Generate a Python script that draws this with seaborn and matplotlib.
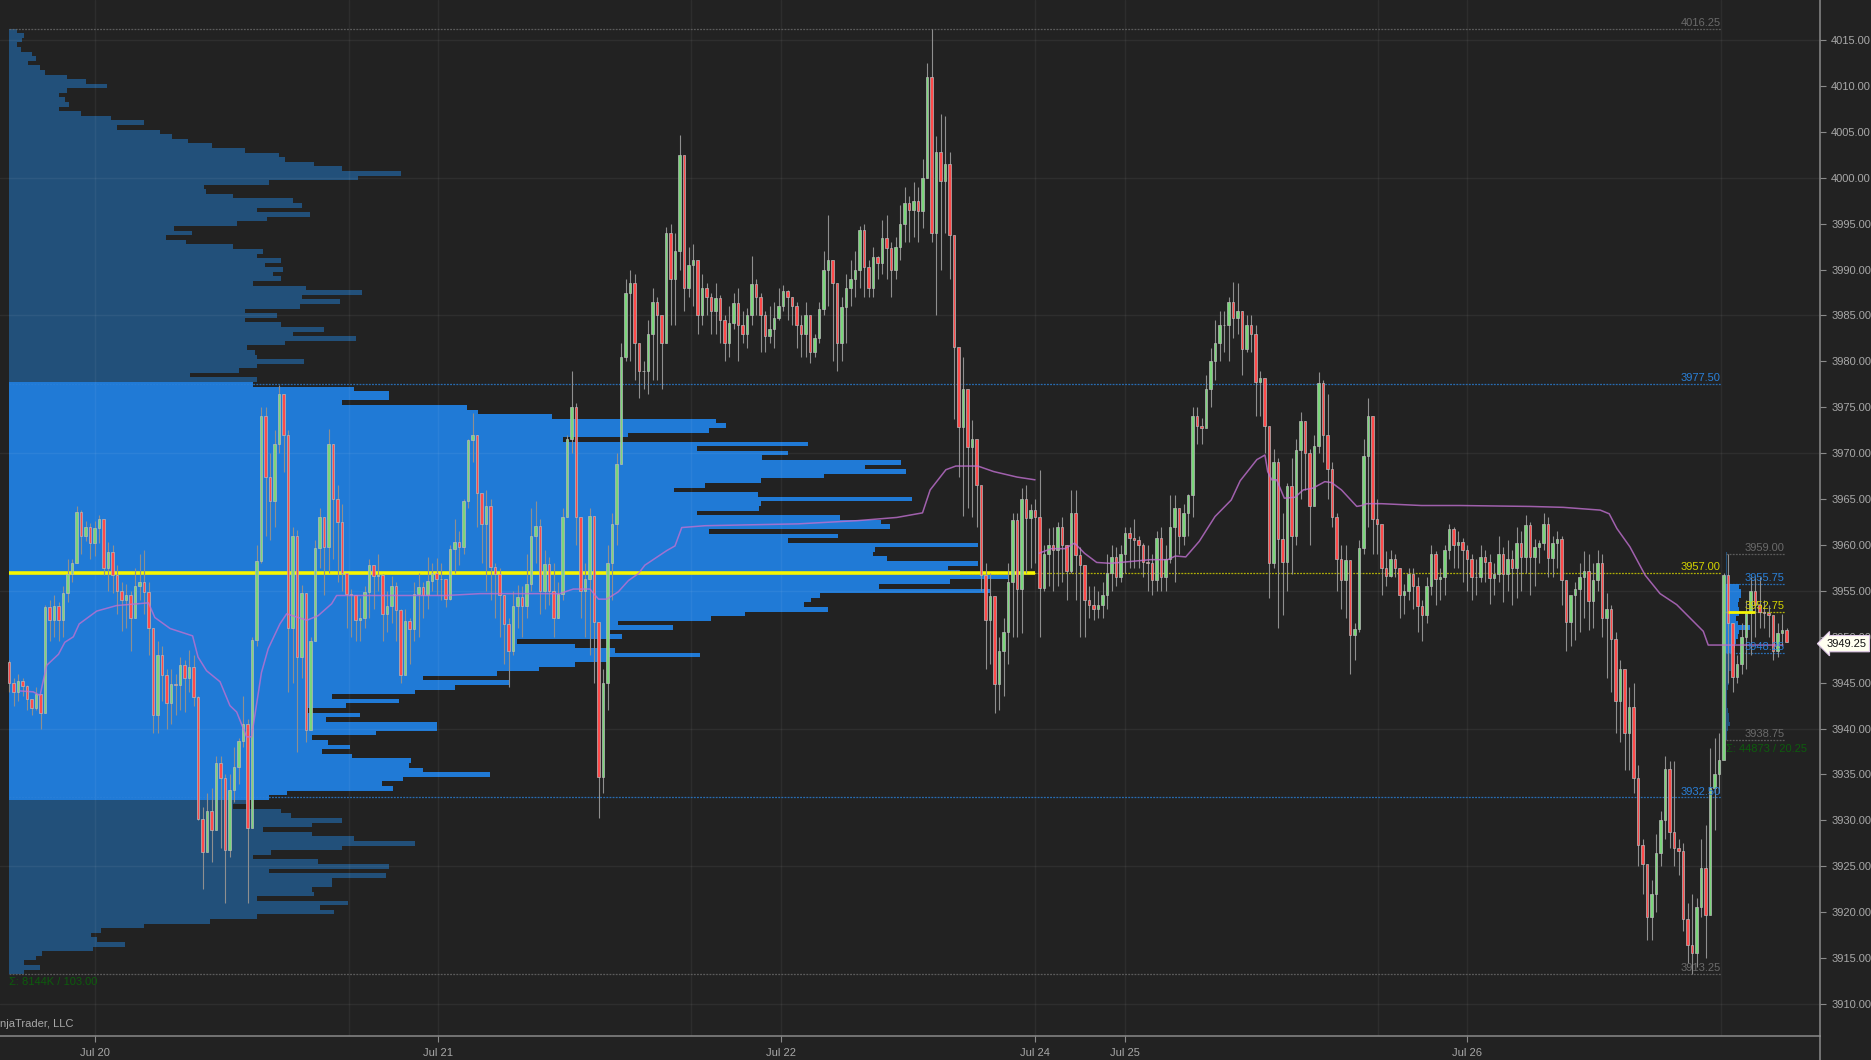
import numpy as np
import pandas as pd
import matplotlib.pyplot as plt
from matplotlib.lines import Line2D
import seaborn as sns

# prices below are stored as points above this base
base = 3900

# one row = 20 bars
closes = [
    45.0,44.0,45.2,44.6,43.2,42.2,43.8,41.7,53.2,51.8,53.4,51.8,54.8,56.8,58.0,63.6,61.0,62.0,60.2,61.8,
    62.8,57.5,59.2,56.7,55.0,54.0,54.6,52.0,55.5,56.0,54.9,51.0,41.5,48.0,45.8,42.8,44.9,44.8,46.9,45.5,
    46.7,43.4,30.2,26.6,31,29,36.3,34.6,26.8,33.3,35.8,38.7,40.5,29.2,49.6,58.3,74,67.4,64.8,71,
    76.5,72,51,61,47.8,54.8,39.8,49.5,59.7,63,59.8,71,65,62.5,57,54.7,54.5,51.8,52,54.9,
    57.8,56.6,56.7,52.5,53.4,55.5,52.9,45.8,51.7,50.9,54.7,55.4,54.5,56.1,57,56.3,56.3,54.1,59.6,60.3,
    59.8,64.8,71.4,72,65.7,62.3,64.3,57.6,56.8,54.5,51.4,48.5,53.4,54.3,53.4,55.8,61,62.1,55,57.9,
    55,52.1,54.7,63,71.6,75,63,55,56.3,63.2,51.6,34.7,45,58,62.3,68.8,80.5,87.5,88.5,82,
    78.9,78.9,83,86.5,85,82,94,89,92,102.5,88,90.5,91,85,88,87,85.5,86.9,84.5,82,
    84.2,86.4,84,83,85,88.4,87,85,82.8,83.5,84.7,86,87.7,87,86,84,83,85,81,82.5,
    85.7,90,91,88.5,82,85.9,88,89,90,94.3,90.3,88,91.4,90.7,93.4,92.3,90,92.5,95,97.3,
    96.5,97.5,96.4,100,111,94,102.8,99.7,101.5,93.8,81.6,72.8,77,70.7,71.5,66.5,56.7,51.8,54.4,44.9,
    48.4,50.5,56,62.7,55.2,65,62.9,63.8,63,55.3,59,60,59.5,62,60,57.2,63.5,58.9,57.8,54,
    53.5,53,53.5,54.5,57,58.7,56.5,59,61.3,60.8,60.5,60,58.2,58,56.2,60.8,56.5,58.5,62,64,
    61,63.5,65.5,74,73,72.7,77,80,82,84,84,86.5,84.7,85.5,81.3,84,83,77.8,78.2,73,
    58,69,60.6,58.2,66.4,61,70.4,73.5,70,64.2,70.8,77.7,72,68.3,63,58.5,56.2,58.4,50.2,50.8,
    59.7,69.7,74,62.8,62.3,57.5,56.6,58.5,57.5,54.6,55,56.8,55.5,53.3,52.4,55.5,59,56.3,56.5,59.5,
    61.7,60,60.3,59.5,58.5,56.5,56.5,58.7,58.2,56.4,56.8,59,56.8,58.5,57.5,60.2,58.7,62.2,58.7,59.8,
    60.2,62.3,58.6,60.2,60.7,56.2,51.6,54.5,55.2,56.5,57.2,53.9,56.2,58,52,53,49.8,43,46.5,39.5,
    42.4,34.6,27.3,25.2,19.5,22,26.5,30,35.6,28.7,27,26.7,19.3,16.4,15.5,20.6,24.8,19.7,33.5,35,
    36.6,56.7,51.5,45.6,47,50,52.6,55,53.5,52.7,52.6,52.4,48.5,50.4,50.7,49.4,
]
highs = [
    47.5,45.5,46,45.5,44.8,43,44.5,43.2,53.5,54,54.5,53.8,55.5,58.5,58.5,64.3,63.8,62.6,62.4,62.6,
    63.3,60,60.3,60,57.8,56,55.8,55,57.5,59,59.5,56,47,49.5,49,46.5,46.5,46,47.8,47.5,
    48.6,48,43.5,31.5,33,33.5,37,37,35,35,38,39,43.5,41,50,60,75,75,70,72.5,
    77.4,76.5,72.5,62,61.6,55.6,50.5,50,60.5,64,63,72.6,71,66.5,64.5,57,55.2,54,54.2,55.5,
    58.5,57.5,59,56.8,55,56.6,56,53,53,52,56,57,56,58.7,58,58.6,58,56,60,62.8,
    61.5,65,71.6,74.4,72,65.5,66,65,58,57.5,54.5,52,55,55.6,55.5,59,64,64.8,62.8,59.4,
    58.7,58,56,64,72,79,75.5,62,58,64,63,50,46.5,60,63.5,70,82,89,90,89.5,
    81,80,84.5,88,87,84,94.6,95,94,104.7,100,92.5,92.8,90,89.5,88.5,87.5,88.5,87.2,85,
    86,87.5,88,85.5,85.8,91.5,89,87.5,85.5,86,86.5,88,88.3,87.8,87,86.5,85,86.5,84,83,
    86.5,92,96,90,86.5,87,89.5,91,92,94.8,95,91,92.5,91.5,95.4,96,93,93.5,97,99,
    98,99.5,99,102,112.5,116.25,104.5,107,106.7,102.8,83.5,80.5,80.5,73.5,73.6,66.5,66.4,58,57,50,
    50,52,58,63.5,63.5,66.2,66.5,64.5,65,68.2,60,61.9,62,62.5,63,60,66,66,59.8,57.5,
    55.5,55.5,55,56,59,60,59.8,60,62,62,62.8,61,60.2,60,59,61.5,62,60,65.5,65.5,
    62,64.5,65.6,75,75,73.8,78.5,81.5,84.5,85.5,85.5,87,88.7,88.5,85.5,85,85,84,79,78,
    72,70.5,69.5,63.5,66.7,69.5,71.5,74.5,73.5,70.5,72,78.8,78,76.5,69,63.5,60,60,55,51.5,
    60.5,71.5,76,65,65,60,59.3,59.5,59,57.5,55.8,57.5,57.5,56.5,54,56.5,60,59.3,57.5,60,
    62.3,62,61.5,60.8,60,59,58.5,60,59.5,59,58,61,59.8,60.5,59.5,62,61.5,63.3,62.5,60.7,
    60.5,63.5,63,61,61.5,61,56,52,56,58,59.3,59,58,59.5,59,54.8,53.5,50.5,47.5,44,
    44.5,45,36,28,24.5,23.5,28.5,31,37,36.5,36.5,28,27.5,21,22,21.5,28,29.5,37.9,39,
    39.5,57,59,48.5,48,51.5,54,56.5,56.5,56.5,54,53.5,52,51.5,52.5,51,
]
lows = [
    44,42.5,43,43.5,42,41.5,42,40,43,49.5,50,49.5,50,53.8,56,58,59,60.4,58.5,58.8,
    60.2,56.7,55,54.8,52.5,50.6,51,48.4,52.5,54,52.5,48,39.5,39.5,43,40,40.5,41.5,42,41.8,
    44,42.5,30,22.5,27,25.5,29,27,21,26,32,34,38,21,38.5,49,58,61,60.5,62,
    70,68,44,45,37.5,45.5,38.5,46,55,57.5,54.5,57,58.5,56,55,51,50,49.5,49.5,51,
    52,53,55,49.5,50.5,51.5,49.5,45,48,47,49.5,50,52,53,55,54.5,54,53.2,54,57,
    57.8,59,64,69,62,58,55,54,52,50,47,44.5,48,51,50,52,55,58,52.5,53,
    53.5,50,52,54,64,70,60,52,50,48,45,30.3,33,42,54,60,70,80,80,78,
    76,77,76.5,78,78,77,84,84,84,90,85.5,87,86,83,84,85,83,83,82,80,
    80.5,83.5,80,82,81.5,84,85,81,81,82,81.5,84.5,85.5,84.5,84,81.5,80.5,80.5,79.8,80.5,
    82,85,86,80,79,80,82,86,87,88,87,87,87,89,89.5,89,87,89,91,93,
    93,93.5,93,94.5,100,93,85,90,94,89,73.7,67.4,63.2,64,63,62,55,46.5,47,41.7,
    42,43.5,47,50,50,50.4,57,57.5,58,50,55,55.5,55,55.5,56,54,57,54,50,50,
    52,51.8,52,52,53,55,55.5,56,57,57.5,57.5,57.5,56.5,55,54.5,55,55,55,58,56,
    59,60,61,63,71,71,73,75,78,80,81,80,82.6,83,78.5,81,81,74,74,70,
    54.2,57.5,51,52.4,55,56.8,60,65,66,60,66,70,69,65,62,55,53,52,45.9,47.5,
    50.5,59,62,59,59,54.5,55.5,56.5,56.5,52,52.5,54,53,50.5,49.5,51.5,54.5,53.5,54,54.5,
    58.5,57.5,57.5,56,55,54,54.5,56,56,53.6,54.5,56,53.8,55,53.5,54.2,55,57,54.5,55.5,
    58,59.5,56.5,56.5,57.5,53.5,48.5,49,49.7,50.5,52,50.7,51,55,50,45.5,44,39.5,38.5,35.5,
    35.5,33,25,22,17,17,20,25,28,27,25,24,18,14.5,13.25,14,19.5,15,25,29,
    33,38.75,45,44,45,46,46.5,48,50,51,51,50,47.5,47.8,49,49.4,
]
first_open = 47.2

# vwap, two stretches, x in bar numbers
vwap1_x = [2.4,5.4,6.9,7.6,8.4,11,12.4,14.3,15.6,19.5,23.9,31,32.4,35.8,40.8,42,43.9,46.9,49.1,50.6,52.8,53.9,56.1,57.6,60.2,61.7,66.2,68.7,71.7,72.8,82.4,97.3,104.7,122.4,125.4,129.1,131,132.8,135.4,137.6,139.9,141.3,146.2,148,149.5,154.7,175.3,188.5,197.3,203,204.7,208.2,210.4,215.3,218.8,224,228]
vwap1_y = [44.1,44,43.6,45.2,46.9,48.1,49.4,50,51.4,52.8,53.4,53.7,52.1,50.9,50.1,47.8,46.3,45.1,42.5,41.8,39.1,39.1,46.1,48.7,51.4,52.5,51.8,52.3,53.6,54.5,54.5,54.5,54.7,54.7,55.2,55.2,54.1,54.1,54.9,56.1,56.9,57.8,59.4,59.9,61.9,62.1,62.3,62.65,63,63.5,66,68.2,68.6,68.6,68,67.4,67.1]
vwap2_x = [228.9,231.6,234.6,236.8,239,241.7,244.7,253.6,257.5,259.2,261.5,264.5,268,271.6,273.6,277.3,279.1,279.7,280.6,281.7,283.4,285.8,287.6,289.8,292.4,293.9,296.1,299.5,300.6,301.7,305,313.9,322.4,338,345.4,353.6,355.6,357.3,360.2,363.6,366.9,370.6,376.5,377.6,380.2,394.2]
vwap2_y = [59.1,59.6,59.6,60.2,59.1,58.1,58,58.4,58.4,58.8,58.7,60.4,63.1,64.9,67,69.3,69.8,68,67.1,67.1,65.1,65.2,66,66.2,66.9,66.8,66,64.2,64.3,64.5,64.5,64.3,64.3,64.2,64.1,63.8,63.4,61.8,59.8,56.7,54.7,53.5,50.6,49.1,49.1,49.1]

# volume profile, 0.5 point rows from the top down
profile_top = 116.0
profile_vol = [
    18,36,31,18,28,56,66,46,76,91,146,194,246,146,126,141,151,126,181,256,341,271,381,411,451,511,596,681,696,771,841,991,881,656,491,496,566,716,741,626,761,651,576,416,461,396,446,566,641,626,686,646,691,666,686,616,751,891,741,836,736,596,676,596,686,796,716,876,696,601,621,626,746,626,581,456,626,
    616,871,961,961,841,1156,1186,1371,1787,1811,1770,1564,1400,2019,1740,1970,1904,2254,2164,2268,2059,1900,1760,1680,1894,2282,1900,1896,1740,2100,2204,2228,1769,2096,1970,2450,2189,2184,2219,2450,2374,2404,2529,2379,2199,2479,2049,2026,2009,2069,1859,1774,1540,1679,1520,1548,1283,1430,1531,1746,1510,1430,1340,1232,1047,1266,1127,1026,816,986,850,756,886,800,1081,1081,926,766,806,861,791,866,1016,1011,1046,1216,996,941,971,701,656,
    601,566,686,711,841,766,641,766,871,1026,841,661,616,781,961,656,951,816,816,766,771,626,856,786,821,626,506,341,231,206,221,291,211,81,66,36,76,36,
]
# small profile of the last session
mini_top = 59.0
mini_vol = [3,3,3,3,3,3,3,35,40,40,35,31,35,35,27,31,63,35,31,27,23,19,14,14,14,14,10,10,10,6,3,3,3,3,6,8,10,11,6,3,3]

time_ticks = [19.2,95.3,171.6,228,247.9,323.9]
time_labels = ['Jul 20','Jul 21','Jul 22','Jul 24','Jul 25','Jul 26']
session_breaks = [75.6,151.6,304.2,380.4]
grid_prices = [4015,4000,3985,3970,3955,3940,3925,3910]
price_ticks = list(range(3910,4020,5))

bg = '#222222'
va_blue = '#207ad6'
dark_blue = '#22507a'
ymin, ymax = 3906.51, 4019.37

sns.set_theme(style='dark', rc={'axes.facecolor': bg, 'figure.facecolor': bg})
plt.rcParams['font.family'] = ['Liberation Sans', 'DejaVu Sans']

fig = plt.figure(figsize=(18.71,10.60), dpi=100)
rect = [0, 24/1060, 1820/1871, 1036/1060]
ax_vol = fig.add_axes(rect)
ax = ax_vol.twiny()
ax.set_zorder(2)
ax_vol.set_zorder(1)
ax.patch.set_visible(False)
ax.yaxis.set_visible(True)

# profile underneath
prof = pd.DataFrame({'price': [base + profile_top - 0.5*i for i in range(len(profile_vol))], 'vol': profile_vol})
edges = [3913.25 + 0.5*i for i in range(207)]
in_va = (prof['price'] <= 3977.75) & (prof['price'] >= 3932.5)
sns.histplot(data=prof[~in_va], y='price', weights='vol', bins=edges, color=dark_blue, alpha=1, linewidth=0, ax=ax_vol)
sns.histplot(data=prof[in_va], y='price', weights='vol', bins=edges, color=va_blue, alpha=1, linewidth=0, ax=ax_vol)

mini_p = np.array([base + mini_top - 0.5*i for i in range(len(mini_vol))])
mini_c = [va_blue if 3948.25 <= p <= 3955.75 else dark_blue for p in mini_p]
ax_vol.barh(mini_p, mini_vol, height=0.5, left=4340, color=mini_c, linewidth=0)
ax_vol.set_xlim(-24, 4579)
ax_vol.set_ylim(ymin, ymax)
ax_vol.set_xlabel('')
ax_vol.set_ylabel('')
ax_vol.set_xticks([])
ax_vol.tick_params(left=False, labelleft=False)

# candles
xs = np.arange(len(closes))
c = base + np.array(closes, dtype=float)
o = np.r_[base + first_open, c[:-1]]
h = base + np.array(highs, dtype=float)
l = base + np.array(lows, dtype=float)
cols = ['#7ad67a' if a >= b else '#ff4a4a' for a, b in zip(c, o)]

ax.set_xlim(-2, 402.44)
ax.set_ylim(ymin, ymax)

for p in grid_prices:
    ax.axhline(p, color='white', alpha=0.055, lw=1, zorder=1)
for t in time_ticks + session_breaks:
    ax.axvline(t, color='white', alpha=0.05, lw=1, zorder=1)

ax.vlines(xs, l, h, color='#8f8f8f', lw=0.8, zorder=3)
ax.bar(xs, np.abs(c-o), bottom=np.minimum(c,o), width=0.62, color=cols, edgecolor='#b9b9b9', linewidth=0.5, zorder=4)

sns.lineplot(x=vwap1_x, y=[base+v for v in vwap1_y], color='#c070d0', alpha=0.8, lw=1.1, ax=ax, zorder=5, errorbar=None, sort=False)
sns.lineplot(x=vwap2_x, y=[base+v for v in vwap2_y], color='#c070d0', alpha=0.8, lw=1.1, ax=ax, zorder=5, errorbar=None, sort=False)

# level lines with their labels
grey = '#6a6a6a'
blue = '#2a80d8'
yellow = '#d4d400'
dash = dict(ls=(0,(1.5,1)), lw=0.9, zorder=2)
for price, txt, col in [(4016.25,'4016.25',grey),(3977.5,'3977.50',blue),(3957,'3957.00',yellow),(3932.5,'3932.50',blue),(3913.25,'3913.25',grey)]:
    ax.plot([0,380.4],[price,price], color=col, alpha=0.8, **dash)
    ax.text(380.4, price+0.1, txt, color=col, ha='right', va='bottom', fontsize=8, zorder=6)
ax.plot([-0.1,228],[3957,3957], color='#f6f600', lw=2.6, zorder=2.5, solid_capstyle='butt')

for price, txt, col in [(3959,'3959.00',grey),(3955.75,'3955.75',blue),(3952.75,'3952.75',yellow),(3948.25,'3948.25',blue),(3938.75,'3938.75',grey)]:
    ax.plot([381.5,394.6],[price,price], color=col, alpha=0.8, **dash)
    ax.text(394.6, price+0.1, txt, color=col, ha='right', va='bottom', fontsize=8, zorder=6)
ax.plot([382,388],[3952.75,3952.75], color='#f6f600', lw=2, zorder=5, solid_capstyle='butt')

ax.text(0, 3912.9, 'Σ: 8144K / 103.00', color='#0d5c0d', ha='left', va='top', fontsize=8, zorder=6)
ax.text(381.5, 3938.3, 'Σ: 44873 / 20.25', color='#0d5c0d', ha='left', va='top', fontsize=8, zorder=6)

fig.text(0, 1-1024/1060, 'njaTrader, LLC', color='#a8a8a8', ha='left', va='center', fontsize=8)

# axes furniture
ax.spines['top'].set_visible(False)
ax.spines['left'].set_visible(False)
ax.spines['right'].set_color('#8a8a8a')
ax.spines['bottom'].set_color('#8a8a8a')
ax.spines['right'].set_linewidth(1.1)
ax.spines['bottom'].set_linewidth(1.1)
for s in ax_vol.spines.values():
    s.set_visible(False)
ax.xaxis.set_ticks_position('bottom')
ax.yaxis.set_ticks_position('right')
ax.xaxis.set_label_position('bottom')
ax.set_xticks(time_ticks)
ax.set_xticklabels(time_labels)
ax.set_yticks(price_ticks)
ax.set_yticklabels(['%.2f' % p for p in price_ticks])
ax.tick_params(axis='both', colors='#8a8a8a', labelcolor='#a8a8a8', labelsize=8, length=4, width=0.8, pad=4,
               bottom=True, right=True, labelbottom=True, labelright=True, left=False, labelleft=False)
ax.tick_params(axis='x', pad=4.5)
fig.add_artist(Line2D([1820/1871,1820/1871],[0,24/1060], color='#8a8a8a', lw=1.1))

# last price marker
ax.text(1.0035, 3949.25, '3949.25', transform=ax.get_yaxis_transform(), color='#111111', ha='left', va='center',
        fontsize=8, zorder=10, clip_on=False, bbox=dict(boxstyle='larrow,pad=0.28', fc='#fffff0', ec='#e0c8e8', lw=0.8))

fig.savefig('out.png', dpi=100, facecolor=bg)
